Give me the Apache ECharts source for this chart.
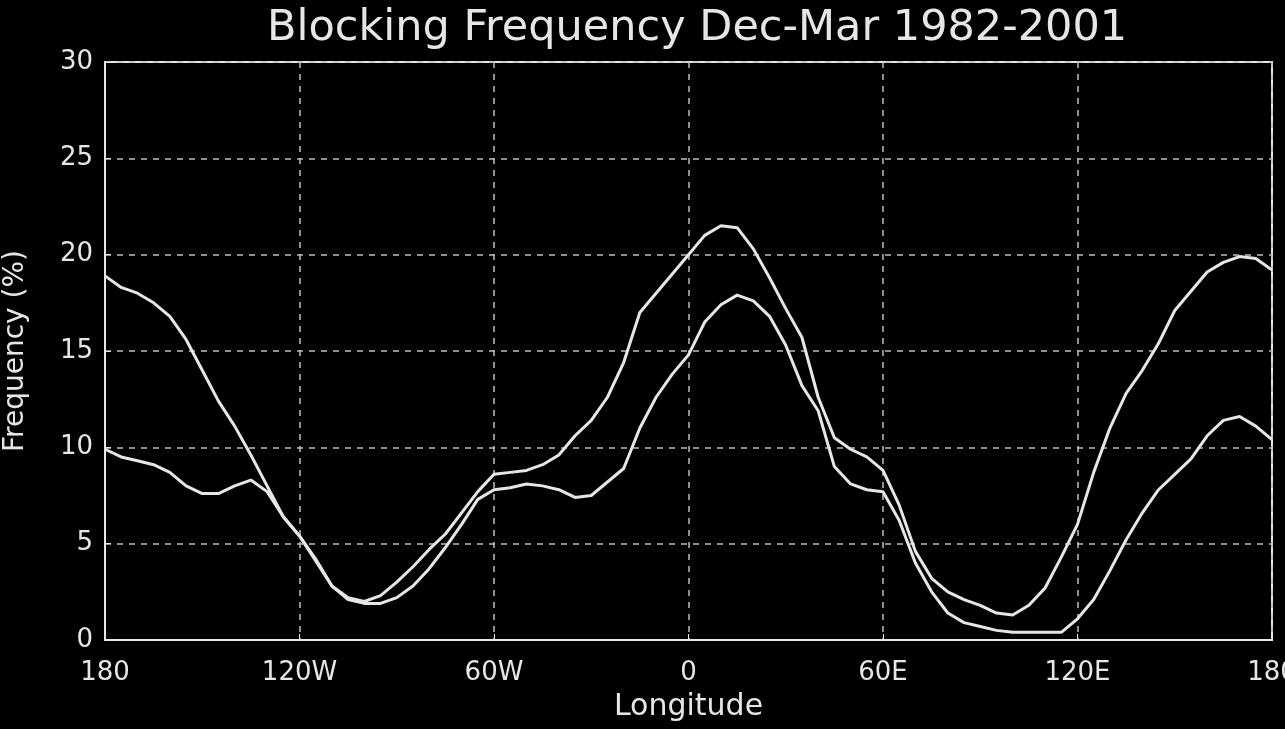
<!DOCTYPE html>
<html>
<head>
<meta charset="utf-8">
<script src="https://cdn.jsdelivr.net/npm/echarts@6/dist/echarts.min.js"></script>
<style>
  html, body { margin: 0; padding: 0; background: #000; }
  #chart { width: 1285px; height: 729px; }
</style>
</head>
<body>
<div id="chart"></div>
<script>
// Longitude grid (degrees, 5° spacing from 180W to 180E)
const longitudes = [];
for (let lon = -180; lon <= 180; lon += 5) longitudes.push(lon);

// Blocking frequency (%) — upper curve
const freqUpper = [
  18.9, 18.3, 18.0, 17.5, 16.8, 15.6, 14.0, 12.4, 11.1, 9.6,
  8.0, 6.4, 5.4, 4.2, 2.8, 2.2, 2.0, 2.3, 3.0, 3.8,
  4.7, 5.5, 6.6, 7.7, 8.6, 8.7, 8.8, 9.1, 9.6, 10.6,
  11.4, 12.6, 14.4, 17.0, 18.0, 19.0, 20.0, 21.0, 21.5, 21.4,
  20.3, 18.8, 17.2, 15.7, 12.6, 10.5, 9.9, 9.5, 8.8, 7.0,
  4.6, 3.2, 2.5, 2.1, 1.8, 1.4, 1.3, 1.8, 2.7, 4.3,
  6.0, 8.7, 11.0, 12.8, 14.0, 15.4, 17.1, 18.1, 19.1, 19.6,
  19.9, 19.8, 19.2
];

// Blocking frequency (%) — lower curve
const freqLower = [
  9.9, 9.5, 9.3, 9.1, 8.7, 8.0, 7.6, 7.6, 8.0, 8.3,
  7.7, 6.4, 5.4, 4.1, 2.8, 2.1, 1.9, 1.9, 2.2, 2.8,
  3.7, 4.8, 6.0, 7.3, 7.8, 7.9, 8.1, 8.0, 7.8, 7.4,
  7.5, 8.2, 8.9, 11.0, 12.6, 13.8, 14.8, 16.5, 17.4, 17.9,
  17.6, 16.8, 15.3, 13.2, 11.9, 9.0, 8.1, 7.8, 7.7, 6.2,
  4.0, 2.5, 1.4, 0.9, 0.7, 0.5, 0.4, 0.4, 0.4, 0.4,
  1.1, 2.1, 3.6, 5.2, 6.6, 7.8, 8.6, 9.4, 10.6, 11.4,
  11.6, 11.1, 10.4
];

// Axis tick labels
const lonTicks = [-180, -120, -60, 0, 60, 120, 180];
const lonTickLabels = ['180', '120W', '60W', '0', '60E', '120E', '180'];
const freqTicks = [0, 5, 10, 15, 20, 25, 30];

const titleText = 'Blocking Frequency Dec-Mar 1982-2001';
const xName = 'Longitude';
const yName = 'Frequency (%)';

const fg = '#e6e6e6';
const gridCol = '#bdbdbd';
const font = 'DejaVu Sans';

const chart = echarts.init(document.getElementById('chart'), null, { renderer: 'canvas' });

function pairs(vals) { return longitudes.map((lon, i) => [lon, vals[i]]); }

chart.setOption({
  backgroundColor: '#000',
  animation: false,
  title: {
    text: titleText,
    left: 262,
    top: 2,
    textStyle: { color: fg, fontFamily: font, fontSize: 43, fontWeight: 'normal' }
  },
  grid: {
    left: 105, right: 13, top: 62, bottom: 89,
    containLabel: false, outerBoundsMode: 'none',
    show: true, borderColor: fg, borderWidth: 2
  },
  xAxis: {
    type: 'value',
    min: -180, max: 180, interval: 60,
    name: xName, nameLocation: 'middle', nameGap: 52,
    nameTextStyle: { color: fg, fontFamily: font, fontSize: 30 },
    axisLine: { show: true, onZero: false, lineStyle: { color: fg, width: 2 } },
    axisTick: { show: true, inside: true, length: 6, lineStyle: { color: fg } },
    axisLabel: {
      color: fg, fontFamily: font, fontSize: 26, margin: 20,
      formatter: v => { const i = lonTicks.indexOf(v); return i >= 0 ? lonTickLabels[i] : ''; }
    },
    splitLine: { show: true, lineStyle: { color: gridCol, type: [6, 6], width: 1.5 } }
  },
  yAxis: {
    type: 'value',
    min: 0, max: 30, interval: 5,
    name: yName, nameLocation: 'middle', nameGap: 75, nameRotate: 90,
    nameTextStyle: { color: fg, fontFamily: font, fontSize: 28 },
    axisLine: { show: true, onZero: false, lineStyle: { color: fg, width: 2 } },
    axisTick: { show: true, inside: true, length: 6, lineStyle: { color: fg } },
    axisLabel: {
      color: fg, fontFamily: font, fontSize: 26, margin: 12,
      formatter: v => freqTicks.indexOf(v) >= 0 ? String(v) : ''
    },
    splitLine: { show: true, lineStyle: { color: gridCol, type: [6, 6], width: 1.5 } }
  },
  series: [
    {
      type: 'line', data: pairs(freqUpper), showSymbol: false, smooth: false,
      lineStyle: { color: fg, width: 3 }
    },
    {
      type: 'line', data: pairs(freqLower), showSymbol: false, smooth: false,
      lineStyle: { color: fg, width: 3 }
    }
  ]
});
</script>
</body>
</html>
